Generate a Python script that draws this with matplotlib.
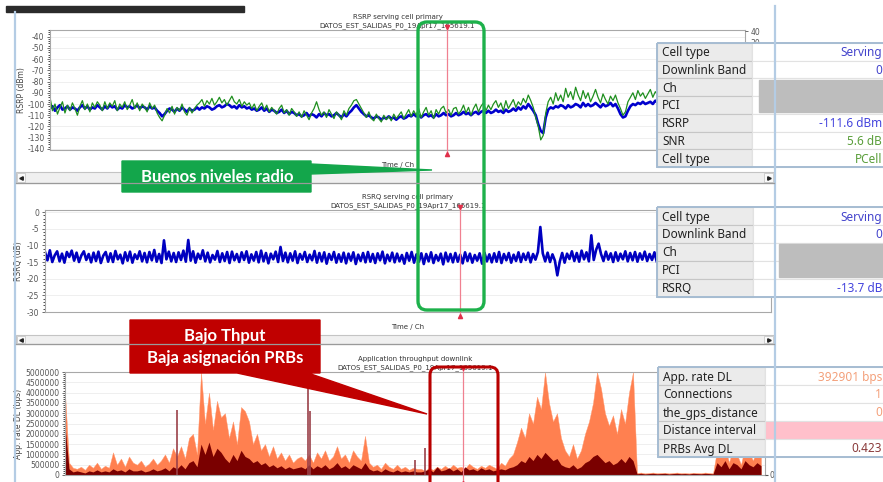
import numpy as np
import matplotlib.pyplot as plt
from matplotlib.patches import Rectangle, FancyBboxPatch, Polygon
from matplotlib.ticker import MultipleLocator, AutoMinorLocator

plt.rcParams['axes.unicode_minus'] = False

W, H = 883, 482

# ---- values ----
# RSRP serving cell primary (dBm), two traces
rsrp_blue = [
    -104, -102, -106, -103, -101, -105, -104, -102, -105, -103, -104, -106, -103, -101, -104, -102, -105, -103, -104, -101,
    -103, -105, -102, -104, -101, -103, -102, -105, -103, -104, -101, -103, -102, -104, -103, -101, -104, -102, -103, -105,
    -102, -104, -103, -106, -108, -111, -109, -106, -104, -105, -107, -104, -106, -103, -105, -107, -104, -106, -105, -103,
    -105, -103, -104, -102, -103, -105, -104, -102, -101, -103, -102, -100, -101, -103, -102, -104, -101, -103, -102, -104,
    -103, -105, -104, -106, -105, -103, -106, -104, -107, -105, -106, -108, -107, -105, -108, -106, -109, -107, -108, -110,
    -109, -111, -110, -108, -111, -109, -110, -112, -109, -111, -108, -110, -109, -111, -110, -108, -110, -112, -109, -111,
    -108, -106, -103, -101, -104, -107, -109, -111, -110, -112, -113, -111, -112, -114, -112, -113, -111, -113, -112, -114,
    -112, -111, -113, -112, -110, -111, -109, -111, -110, -112, -110, -109, -111, -110, -112, -109, -111, -110, -108, -110,
    -109, -111, -110, -108, -110, -109, -107, -109, -108, -110, -108, -107, -109, -107, -106, -108, -106, -108, -107, -105,
    -107, -106, -108, -105, -107, -106, -104, -106, -103, -105, -102, -104, -100, -103, -106, -110, -118, -124, -126, -112,
    -105, -103, -104, -102, -103, -101, -102, -104, -101, -103, -102, -100, -101, -103, -99, -102, -100, -102, -101, -99,
    -101, -103, -100, -102, -101, -99, -102, -100, -104, -109, -112, -111, -106, -102, -100, -101, -99, -100, -98, -100,
    -99, -98, -100, -97, -99, -98, -100, -97, -98, -96, -99, -97, -98, -96, -97, -99, -96, -98, -97, -95,
    -97, -96, -98, -95, -97, -96, -94, -96, -95, -97, -95, -94, -96, -95, -93, -95, -94, -96, -94, -95]
rsrp_green = [
    -94, -106, -100, -109, -103, -98, -108, -101, -106, -99, -104, -110, -102, -97, -105, -100, -107, -99, -103, -98,
    -101, -106, -98, -104, -99, -102, -97, -106, -100, -103, -98, -105, -101, -96, -104, -99, -106, -100, -103, -107,
    -99, -104, -101, -108, -112, -115, -110, -104, -108, -102, -109, -103, -106, -100, -107, -110, -103, -108, -104, -101,
    -99, -96, -102, -97, -100, -95, -101, -98, -94, -99, -96, -101, -97, -93, -98, -100, -96, -102, -98, -101,
    -99, -104, -100, -106, -102, -99, -105, -101, -107, -103, -106, -109, -104, -101, -108, -105, -110, -104, -107, -111,
    -107, -112, -106, -110, -114, -108, -104, -98, -105, -110, -107, -112, -105, -109, -113, -107, -110, -114, -106, -110,
    -104, -101, -97, -96, -100, -104, -108, -112, -107, -113, -115, -109, -113, -116, -110, -114, -111, -115, -109, -113,
    -110, -107, -113, -109, -105, -111, -106, -110, -104, -112, -107, -103, -110, -106, -113, -105, -109, -104, -102, -108,
    -105, -110, -104, -103, -109, -106, -101, -108, -103, -110, -104, -100, -107, -102, -99, -106, -101, -105, -100, -97,
    -103, -99, -106, -97, -104, -100, -96, -103, -98, -101, -95, -99, -92, -97, -103, -112, -120, -132, -128, -108,
    -98, -94, -100, -90, -97, -92, -98, -86, -94, -89, -96, -85, -92, -97, -88, -95, -90, -98, -93, -87,
    -94, -99, -91, -96, -100, -93, -97, -92, -99, -104, -110, -107, -98, -94, -90, -96, -88, -93, -90, -95,
    -91, -87, -94, -89, -92, -86, -95, -90, -88, -93, -85, -91, -89, -94, -87, -92, -88, -95, -90, -86,
    -92, -88, -94, -87, -91, -89, -85, -93, -88, -90, -86, -92, -89, -87, -91, -86, -90, -88, -92, -87]

# RSRQ serving cell primary (dB)
rsrq = [
    -12, -14.5, -11.5, -15, -13, -11.8, -14.8, -12.5, -15.2, -12, -13.5, -11.6, -14.6, -12.2, -15, -13, -11.8, -14.4, -12.6, -15.1,
    -12.2, -14.7, -11.9, -15.3, -13.1, -12, -14.9, -12.4, -15, -11.7, -14.2, -12.8, -15.4, -12.1, -14.6, -11.9, -15.2, -12.7, -14.1, -11.8,
    -14.8, -12.3, -15.1, -12, -14.5, -11.4, -14.9, -12.6, -15.3, -8.5, -14.2, -11.9, -14.8, -12.3, -15, -12.1, -14.4, -11.6, -14.9, -8.4,
    -14.6, -11.8, -15.2, -12.5, -14.1, -11.5, -14.8, -12.2, -15.1, -12.9, -14.3, -11.7, -15, -12.4, -14.7, -12, -15.3, -11.9, -14.5, -12.6,
    -15, -12.1, -14.4, -11.8, -15.2, -12.7, -14.6, -12, -15.1, -11.6, -14.8, -12.3, -15.4, -12.5, -14.2, -11.9, -15, -10.5, -14.7, -12.2,
    -15.1, -12.4, -14.6, -11.8, -15.3, -12.6, -14.3, -12, -15, -12.8, -14.5, -11.7, -15.2, -12.3, -14.8, -12.1, -15.5, -12.6, -14.4, -12,
    -15.2, -12.7, -14.9, -12.2, -15.4, -12.5, -14.6, -12.1, -15.6, -12.8, -14.7, -12.3, -15.1, -12, -14.9, -12.6, -15.3, -12.4, -14.5, -11.9,
    -15.4, -12.8, -14.7, -12.2, -15.1, -12.5, -14.8, -12.9, -15.5, -12.3, -14.6, -12, -15.2, -12.7, -14.9, -12.4, -15.6, -12.6, -14.8, -12.1,
    -15.3, -12.9, -14.6, -12.5, -15.7, -12.2, -14.8, -12.6, -15.1, -12.3, -14.9, -12.8, -15.4, -12.1, -14.7, -12.5, -15.2, -12.9, -14.6, -12.4,
    -15.5, -12.2, -14.8, -12.7, -15.1, -12.4, -14.9, -12, -15.3, -12.6, -14.5, -12.3, -15.2, -12.8, -14.7, -12.1, -15, -12.5, -14.4, -12.2,
    -15.1, -12.6, -14.3, -12, -4.5, -12.4, -14.8, -12.2, -15, -12.7, -14.6, -19, -14.9, -12.3, -15.2, -12.5, -14.1, -11.8, -14.7, -12.3,
    -14.9, -11.6, -14.2, -12.1, -14.8, -7, -14.4, -11.3, -9.5, -12.6, -14.7, -11.9, -14.3, -12.4, -15, -12.1, -14.6, -12.5, -14.2, -11.8,
    -14.8, -12.3, -14.5, -12, -14.9, -12.4, -14.3, -11.9, -14.7, -12.6, -14.4, -12.1, -15, -12.3, -14.6, -11.8, -14.8, -12.5, -14.2, -12,
    -14.7, -12.4, -14.9, -12.1, -14.5, -11.8, -14.8, -12.6, -14.3, -12.2, -15, -12.5, -14.6, -11.9, -14.4, -12.3, -14.9, -12.1, -14.6, -12.4,
    -14.8, -12, -14.5, -12.5, -14.2, -11.8, -14.9, -12.3, -14.6, -12.1, -14.4, -12.6, -14.8, -12.2, -14.5, -11.9, -14.7, -12.4, -14.3, -12.2]

# Application throughput downlink, millions of bps
rate_light = [4.0,
              0.6, 0.35, 0.3, 0.4, 0.25, 0.5, 0.35, 0.6, 0.3, 0.45, 0.35,
              1.1, 0.5, 0.8, 0.4, 0.9, 0.6, 0.5, 0.7, 0.4, 0.55, 0.8, 0.5,
              0.7, 1.0, 0.6, 1.3, 0.9, 1.4, 0.8, 1.8, 2.0, 1.0,
              5.0,
              2.5, 4.0, 2.2, 3.6, 2.8, 3.0, 1.8, 2.6, 1.5, 3.3, 3.1,
              2.6, 1.5, 2.0, 1.2, 1.5, 0.9, 1.4, 0.8, 1.1, 0.7, 1.0, 0.6, 0.8,
              0.9, 0.7, 1.0, 0.6, 1.1, 0.8, 1.2, 0.7, 0.9, 1.4, 0.8, 1.0, 0.6, 1.2, 0.9, 0.7, 1.9,
              0.6, 0.4, 0.5, 0.3, 0.6, 0.4, 0.3, 0.5, 0.3, 0.4, 0.25, 0.35, 0.3,
              0.3, 0.2, 0.35, 0.25, 0.4, 0.3, 0.45, 0.3, 0.5, 0.35, 0.4, 0.3,
              0.55, 0.4, 0.3, 0.45, 0.35, 0.5, 0.4, 0.3, 0.6, 0.45, 0.8, 1.0,
              1.6, 2.3, 1.8, 3.0, 2.5, 3.8, 3.2, 5.0,
              3.5, 2.6, 3.0, 1.8, 1.2, 0.9, 1.5, 0.8, 1.2, 2.0,
              2.6, 3.5, 5.0, 4.2, 3.0, 2.4, 2.9, 2.0, 3.2, 2.5, 4.0, 5.0,
              0.1, 0.12, 0.08, 0.1, 0.12, 0.09, 0.1, 0.11, 0.08, 0.1,
              0.12, 0.09, 0.1, 0.08, 0.11, 0.1, 0.09, 0.12, 0.1, 0.08,
              1.2, 0.9, 1.4, 0.6, 1.3, 1.0, 0.5, 1.4, 1.1, 0.7, 1.3, 0.9]
rate_dark = [2.4,
             0.3, 0.15, 0.2, 0.15, 0.1, 0.2, 0.15, 0.25, 0.15, 0.2, 0.15,
             0.3, 0.2, 0.25, 0.15, 0.3, 0.2, 0.2, 0.25, 0.15, 0.2, 0.3, 0.2,
             0.25, 0.35, 0.2, 0.4, 0.3, 0.5, 0.3, 0.6, 0.7, 0.4,
             1.5,
             1.0, 1.6, 0.9, 1.3, 1.1, 0.8, 0.6, 1.0, 0.7, 1.2, 0.9,
             0.8, 0.6, 0.7, 0.5, 0.6, 0.4, 0.5, 0.35, 0.45, 0.3, 0.4, 0.3, 0.35,
             0.4, 0.3, 0.5, 0.3, 0.45, 0.35, 0.5, 0.3, 0.4, 0.6, 0.35, 0.45, 0.3, 0.5, 0.4, 0.3, 0.6,
             0.3, 0.2, 0.25, 0.15, 0.3, 0.2, 0.15, 0.25, 0.15, 0.2, 0.15, 0.2, 0.15,
             0.15, 0.2, 0.3, 0.15, 0.4, 0.2, 0.25, 0.35, 0.2, 0.3, 0.15, 0.4,
             0.25, 0.3, 0.2, 0.35, 0.25, 0.3, 0.2, 0.25, 0.3, 0.25, 0.35, 0.4,
             0.5, 0.7, 0.6, 0.9, 0.7, 1.0, 0.8, 1.1,
             0.9, 0.7, 0.8, 0.5, 0.4, 0.35, 0.5, 0.3, 0.4, 0.6,
             0.7, 0.9, 1.0, 0.8, 0.6, 0.7, 0.5, 0.6, 0.8, 0.6, 0.9, 0.7,
             0.06, 0.08, 0.05, 0.07, 0.08, 0.06, 0.07, 0.08, 0.05, 0.07,
             0.08, 0.06, 0.07, 0.05, 0.08, 0.07, 0.06, 0.08, 0.07, 0.05,
             0.6, 0.4, 0.7, 0.3, 0.6, 0.5, 0.3, 0.7, 0.5, 0.4, 0.6, 0.45]
# isolated samples drawn as thin bars
spike_x = [28, 60.7, 61.3, 87.5, 90]
spike_val = [3.15, 5.0, 3.1, 0.75, 1.3]

# cursor sample index in each panel
cursor_rsrp = 159.2
cursor_rsrq = 170.9
cursor_rate = 99.5

subtitle = 'DATOS_EST_SALIDAS_P0_19Apr17_165619.1'

tab1_labels = ['Cell type', 'Downlink Band', 'Ch', 'PCI', 'RSRP', 'SNR', 'Cell type']
tab1_values = ['Serving', '0', '', '', '-111.6 dBm', '5.6 dB', 'PCell']
tab1_colors = ['#4444cc', '#4444cc', '', '', '#4444dd', '#5a9e3a', '#5a9e3a']
tab2_labels = ['Cell type', 'Downlink Band', 'Ch', 'PCI', 'RSRQ']
tab2_values = ['Serving', '0', '', '', '-13.7 dB']
tab2_colors = ['#4444cc', '#4444cc', '', '', '#4444dd']
tab3_labels = ['App. rate DL', 'Connections', 'the_gps_distance', 'Distance interval', 'PRBs Avg DL']
tab3_values = ['392901 bps', '1', '0', '', '0.423']
tab3_colors = ['#f4a07a', '#f4a07a', '#f4a07a', '', '#8a3a3a']


def px_box(x0, y0, x1, y1):
    # pixel box (top-left origin) -> figure fraction
    return [x0 / W, 1 - y1 / H, (x1 - x0) / W, (y1 - y0) / H]


def style_axes(ax):
    for s in ax.spines.values():
        s.set_color('#a8a8a8')
        s.set_linewidth(0.8)
    ax.tick_params(axis='y', labelsize=5.5, colors='#555555', length=2.5,
                   width=0.6, pad=1.5)
    ax.tick_params(axis='y', which='minor', length=1.5, width=0.5)
    ax.yaxis.set_minor_locator(AutoMinorLocator(5))
    ax.set_xticks([])
    ax.grid(axis='y', color='#ededed', lw=0.6)
    ax.set_axisbelow(True)


def cursor(ax, xc, top, bottom):
    tr = ax.get_xaxis_transform()
    ax.plot([xc, xc], [bottom, top], transform=tr, color='#f08090', lw=0.9,
            clip_on=False, zorder=5)
    ax.plot(xc, top, marker='v', ms=3, color='#e0304a', transform=tr,
            clip_on=False, zorder=6)
    ax.plot(xc, bottom, marker='^', ms=3, color='#e0304a', transform=tr,
            clip_on=False, zorder=6)


fig = plt.figure(figsize=(W / 100, H / 100), dpi=100)
fig.patch.set_facecolor('white')

# top panel: RSRP
ax1 = fig.add_axes(px_box(50, 30, 745, 150))
x1 = np.arange(len(rsrp_blue))
ax1.plot(x1, rsrp_blue, color='#0000cd', lw=1.9)
ax1.plot(x1, rsrp_green, color='#1f8f1f', lw=0.9)
ax1.set_xlim(0, len(x1) - 1)
style_axes(ax1)
ax1.set_ylim(-141, -34)
ax1.set_yticks(np.arange(-140, -39, 10))
ax1.set_ylabel('RSRP (dBm)', fontsize=5.5, labelpad=1, color='#444444')
ax1.set_title('RSRP serving cell primary\n' + subtitle, fontsize=5,
              color='#333333', pad=2, linespacing=1.4)
ax1.set_xlabel('Time / Ch', fontsize=5, color='#333333', labelpad=9)
cursor(ax1, cursor_rsrp, 1.025, -0.035)
ax1r = ax1.twinx()
ax1r.set_ylim(-68, 41)
ax1r.set_yticks(np.arange(-60, 41, 10))
ax1r.tick_params(axis='y', labelsize=5.5, colors='#555555', length=2.5, width=0.6, pad=1.5)
for s in ax1r.spines.values():
    s.set_visible(False)

# middle panel: RSRQ
ax2 = fig.add_axes(px_box(45, 210, 771, 312))
x2 = np.arange(len(rsrq))
ax2.plot(x2, rsrq, color='#0000c0', lw=1.9)
ax2.set_xlim(0, len(x2) - 1)
ax2.yaxis.set_major_locator(MultipleLocator(5))
style_axes(ax2)
ax2.set_ylim(-30, 0.6)
ax2.set_ylabel('RSRQ (dB)', fontsize=5.5, labelpad=3, color='#444444')
ax2.set_title('RSRQ serving cell primary\n' + subtitle, fontsize=5,
              color='#333333', pad=2, linespacing=1.4)
ax2.set_xlabel('Time / Ch', fontsize=5, color='#333333', labelpad=9)
cursor(ax2, cursor_rsrq, 1.03, -0.04)

# bottom panel: application throughput
ax3 = fig.add_axes(px_box(65, 372, 765, 475))
x3 = np.arange(len(rate_light))
light = np.array(rate_light) * 1e6
dark = np.array(rate_dark) * 1e6
ax3.fill_between(x3, 0, light, color='#ff8050', lw=0.3, edgecolor='#ff9a70')
ax3.fill_between(x3, 0, dark, color='#7a0000', lw=0)
ax3.vlines(spike_x, 0, np.array(spike_val) * 1e6, color='#9a4048', lw=1.4, alpha=0.85)
ax3.set_xlim(0, len(x3))
ax3.yaxis.set_major_locator(MultipleLocator(500000))
style_axes(ax3)
ax3.set_ylim(0, 5000000)
ax3.ticklabel_format(axis='y', style='plain', useOffset=False)
ax3.set_ylabel('App. rate DL (bps)', fontsize=5.5, labelpad=2, color='#444444')
ax3.set_title('Application throughput downlink\n' + subtitle, fontsize=5,
              color='#333333', pad=2, linespacing=1.4)
cursor(ax3, cursor_rate, 1.04, -0.08)
ax3r = ax3.twinx()
ax3r.set_ylim(0, 1)
ax3r.set_yticks([0])
ax3r.tick_params(axis='y', labelsize=5.5, colors='#555555', length=2, pad=1)
for s in ax3r.spines.values():
    s.set_visible(False)

# overlay in pixel coordinates for the screenshot furniture
ov = fig.add_axes([0, 0, 1, 1], zorder=20)
ov.set_xlim(0, W)
ov.set_ylim(H, 0)
ov.axis('off')
ov.patch.set_alpha(0)

ov.add_patch(Rectangle((6, 6), 238, 6, color='#2b2b2b'))
ov.plot([15, 15], [12, H], color='#b4cce4', lw=1.6)
ov.plot([775, 775], [6, H], color='#b4cce4', lw=1.6)

# scroll bars
for y0, y1 in [(172, 183), (335, 344)]:
    ov.add_patch(Rectangle((16, y0), 758, y1 - y0, facecolor='#f0f0f0',
                           edgecolor='#c4c4c4', lw=0.8))
    ov.plot([16, 774], [y1, y1], color='#9a9a9a', lw=0.9)
    ov.add_patch(Rectangle((17, y0 + 1), 8, y1 - y0 - 2, facecolor='#fafafa',
                           edgecolor='#c8c8c8', lw=0.6))
    ov.add_patch(Rectangle((764, y0 + 1), 9, y1 - y0 - 2, facecolor='#fafafa',
                           edgecolor='#c8c8c8', lw=0.6))
    ov.plot(21, (y0 + y1) / 2, marker='<', ms=2.5, color='#222222')
    ov.plot(769, (y0 + y1) / 2, marker='>', ms=2.5, color='#222222')


def draw_table(x0, xm, y0, rh, labels, values, colors, gray=None, pink_row=None):
    x1 = W + 2
    n = len(labels)
    for i, (lab, val, col) in enumerate(zip(labels, values, colors)):
        y = y0 + i * rh
        ov.add_patch(Rectangle((x0, y), xm - x0, rh, facecolor='#ebebeb',
                               edgecolor='#c6c6c6', lw=0.8))
        fc = '#ffc0cb' if i == pink_row else 'white'
        ov.add_patch(Rectangle((xm, y), x1 - xm, rh, facecolor=fc,
                               edgecolor='#e2e2e2', lw=0.8))
        ov.text(x0 + 5, y + rh / 2 + 1, lab, fontsize=8.5, family='Noto Sans',
                color='#222222', va='center', ha='left')
        if val:
            ov.text(W - 1, y + rh / 2 + 1, val, fontsize=8.5, family='Noto Sans',
                    color=col, va='center', ha='right')
    if gray:
        gx, gy0, gy1 = gray
        ov.add_patch(Rectangle((gx, gy0), x1 - gx, gy1 - gy0, color='#bdbdbd'))
    ov.add_patch(Rectangle((x0, y0), x1 - x0, n * rh, fill=False,
                           edgecolor='#a6bcd2', lw=1.4))


draw_table(657, 752, 43, 17.7, tab1_labels, tab1_values, tab1_colors,
           gray=(759, 80, 112))
draw_table(657, 753, 207, 18, tab2_labels, tab2_values, tab2_colors,
           gray=(779, 244, 277))
draw_table(658, 765, 367, 18, tab3_labels, tab3_values, tab3_colors,
           pink_row=3)

# highlight boxes
ov.add_patch(FancyBboxPatch((418, 22), 66, 288, boxstyle='round,pad=0,rounding_size=9',
                            fill=False, edgecolor='#1db14b', lw=2.4))
ov.add_patch(FancyBboxPatch((430, 367), 68, 130, boxstyle='round,pad=0,rounding_size=8',
                            fill=False, edgecolor='#b80000', lw=2.2))

# callouts
ov.add_patch(Polygon([(122, 161), (311, 161), (311, 164), (432, 170), (311, 174),
                      (311, 192), (122, 192)], closed=True, color='#13a64b'))
ov.text(217, 177, 'Buenos niveles radio', fontsize=12, family='Lato', weight='bold',
        color='white', ha='center', va='center')
ov.add_patch(Polygon([(130, 320), (320, 320), (320, 373), (308, 373), (427, 414),
                      (237, 373), (130, 373)], closed=True, color='#c00000'))
ov.text(225, 336, 'Bajo Thput', fontsize=12, family='Lato', weight='bold',
        color='white', ha='center', va='center')
ov.text(225, 358, 'Baja asignación PRBs', fontsize=12, family='Lato', weight='bold',
        color='white', ha='center', va='center')

fig.savefig('out.png', dpi=100)
